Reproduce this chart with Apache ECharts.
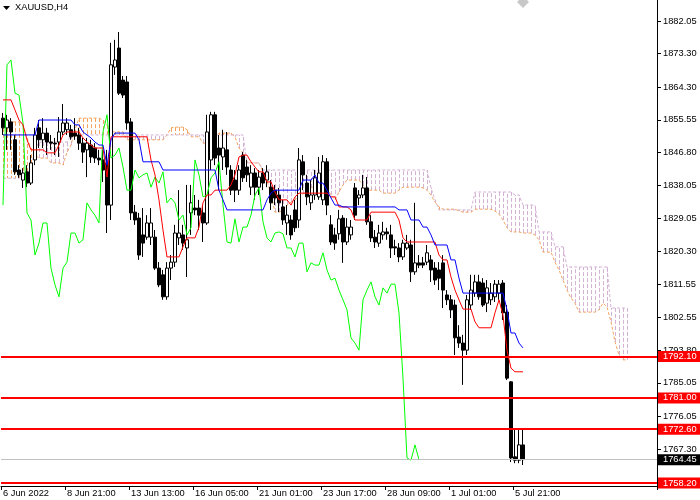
<!DOCTYPE html>
<html><head><meta charset="utf-8">
<script src="https://cdn.jsdelivr.net/npm/echarts@6.0.0/dist/echarts.min.js"></script>
<style>html,body{margin:0;padding:0;background:#fff}#c{width:700px;height:500px}</style>
</head><body><div id="c"></div><script>
// ---- data ----
const xTickLabels = ['6 Jun 2022','8 Jun 21:00','13 Jun 13:00','16 Jun 05:00','21 Jun 01:00','23 Jun 17:00','28 Jun 09:00','1 Jul 01:00','5 Jul 21:00'];
const yTickValues = [1882.05,1873.30,1864.30,1855.55,1846.80,1838.05,1829.05,1820.30,1811.55,1802.55,1793.80,1785.05,1776.05,1767.30];
const levels = [1792.10, 1781.00, 1772.60, 1758.20];
const bidPrice = 1764.45;
const yMin = 1757.38, yMax = 1887.68;
const barSlots = 164; // bars 0..130 + 26 forward + margin

const opens = [1856.0,1853.4,1855.0,1850.2,1842.1,1839.4,1841.6,1838.6,1844.8,1853.4,
 1850.2,1852.0,1849.6,1849.3,1849.6,1852.3,1852.9,1852.9,1852.0,1851.5,
 1849.3,1847.5,1848.8,1848.0,1845.3,1844.8,1844.0,1832.7,1869.7,1874.8,
 1866.2,1865.7,1855.0,1830.8,1829.2,1824.7,1824.1,1824.1,1824.1,1815.8,
 1814.0,1808.1,1815.8,1817.4,1823.9,1824.7,1821.2,1830.6,1831.9,1831.9,
 1830.6,1827.9,1844.8,1856.9,1848.0,1845.6,1847.5,1842.1,1839.4,1836.7,
 1846.1,1842.9,1837.5,1841.3,1837.5,1841.3,1839.4,1837.5,1836.7,1835.4,
 1832.2,1827.9,1828.7,1831.4,1828.7,1844.3,1838.6,1833.3,1835.4,1834.9,
 1834.1,1844.3,1827.4,1824.7,1825.0,1829.2,1822.8,1824.7,1837.3,1834.6,
 1835.4,1837.3,1828.2,1824.1,1822.5,1824.7,1825.5,1824.7,1821.5,1821.2,
 1818.8,1821.2,1822.0,1814.8,1817.2,1817.2,1817.4,1818.0,1815.8,1815.3,
 1817.2,1808.6,1807.3,1805.9,1797.3,1795.7,1793.8,1805.9,1809.1,1812.1,
 1811.8,1806.4,1807.3,1808.1,1809.1,1811.8,1804.0,1785.3,1765.2,1764.3,
 1768.4];
const closes = [1853.4,1855.5,1852.3,1841.6,1840.8,1841.3,1838.6,1844.0,1851.5,1850.2,
 1852.0,1849.6,1849.3,1849.1,1852.3,1854.7,1854.7,1851.0,1851.2,1849.3,
 1846.9,1849.3,1845.6,1845.3,1844.8,1842.1,1832.7,1870.3,1871.6,1862.7,
 1862.2,1854.7,1830.6,1828.7,1819.3,1822.5,1827.9,1827.9,1815.8,1811.3,
 1808.1,1815.8,1817.4,1825.2,1825.2,1822.5,1823.4,1833.3,1831.4,1830.0,
 1827.9,1852.3,1856.9,1845.3,1846.1,1848.0,1842.9,1836.7,1836.7,1842.1,
 1840.0,1840.8,1841.3,1837.5,1840.2,1838.6,1841.6,1833.3,1834.6,1833.3,
 1828.7,1830.0,1824.7,1826.6,1844.8,1840.8,1834.9,1835.4,1840.0,1841.3,
 1844.3,1832.7,1822.8,1822.5,1829.0,1822.8,1826.8,1826.8,1830.0,1835.4,
 1837.3,1828.2,1823.9,1822.8,1825.2,1825.5,1825.0,1821.2,1821.2,1818.8,
 1822.5,1822.5,1814.8,1817.2,1816.6,1816.6,1819.9,1815.3,1812.6,1813.1,
 1809.9,1807.3,1804.6,1797.1,1795.7,1793.8,1807.3,1809.9,1812.1,1808.1,
 1805.9,1810.5,1809.1,1811.5,1811.5,1803.8,1786.3,1764.9,1764.3,1768.4,
 1764.45];
const highs = [1857.4,1856.9,1856.0,1851.5,1843.4,1842.6,1843.4,1846.1,1853.4,1855.5,
 1856.0,1853.4,1851.5,1850.7,1856.3,1859.8,1856.0,1854.2,1856.0,1853.4,
 1850.7,1850.7,1850.2,1849.3,1847.5,1847.5,1847.5,1876.2,1877.0,1879.1,
 1867.3,1867.3,1856.0,1832.7,1830.6,1831.9,1830.0,1831.9,1826.0,1817.4,
 1815.3,1817.4,1819.3,1827.4,1836.7,1827.4,1838.1,1838.1,1835.4,1834.1,
 1832.7,1856.9,1857.7,1857.7,1851.5,1852.9,1852.3,1843.4,1842.1,1843.4,
 1846.9,1844.8,1843.4,1842.6,1842.1,1842.6,1843.4,1839.4,1838.1,1837.3,
 1834.1,1832.7,1830.0,1834.1,1848.0,1846.1,1840.8,1839.4,1842.1,1845.6,
 1846.1,1845.3,1830.0,1826.6,1831.4,1830.0,1829.2,1828.7,1838.6,1836.7,
 1840.8,1840.2,1830.0,1826.0,1827.4,1828.2,1826.6,1827.4,1823.4,1822.5,
 1823.4,1824.7,1823.4,1833.3,1819.3,1818.8,1822.0,1819.3,1817.4,1817.4,
 1819.3,1809.9,1808.6,1807.3,1800.5,1797.9,1808.6,1814.0,1814.0,1814.0,
 1813.1,1812.6,1811.8,1812.6,1812.6,1812.6,1805.9,1785.5,1772.4,1772.4,
 1772.4];
const lows = [1851.5,1847.5,1847.5,1840.8,1840.0,1837.3,1837.5,1838.1,1843.4,1848.0,
 1848.0,1846.1,1847.5,1846.1,1845.6,1851.5,1851.5,1850.2,1850.2,1847.5,
 1844.0,1840.2,1844.0,1844.0,1843.4,1838.9,1825.2,1828.7,1867.6,1862.2,
 1861.4,1852.9,1828.7,1827.4,1818.0,1818.8,1823.4,1822.0,1815.3,1810.7,
 1807.3,1807.3,1812.6,1816.1,1822.0,1820.7,1813.4,1824.7,1830.0,1826.0,
 1822.8,1827.4,1842.1,1843.4,1836.7,1842.1,1840.8,1835.4,1833.5,1835.4,
 1838.9,1838.9,1835.4,1834.1,1835.4,1836.7,1837.5,1831.4,1832.7,1830.8,
 1827.4,1824.7,1823.4,1825.5,1826.6,1836.7,1832.7,1831.4,1834.1,1834.1,
 1832.7,1830.0,1822.0,1820.7,1823.4,1817.2,1822.0,1823.4,1828.7,1832.7,
 1834.6,1827.4,1822.8,1821.2,1821.5,1823.4,1823.4,1818.5,1819.3,1817.4,
 1818.0,1820.7,1812.1,1814.0,1815.8,1815.8,1816.6,1812.1,1811.3,1809.9,
 1805.1,1805.9,1802.4,1792.5,1794.4,1784.5,1792.5,1804.6,1808.1,1807.3,
 1805.4,1804.0,1805.9,1806.7,1807.3,1801.9,1785.8,1763.8,1763.5,1763.5,
 1763.0];

const tenkan = [1860.9,1860.9,1860.9,1858.2,1855.5,1854.2,1850.2,1847.5,1847.5,1847.5,
 1847.5,1846.7,1846.7,1846.7,1848.8,1851.5,1852.3,1852.3,1852.3,1852.3,
 1850.7,1849.6,1848.8,1848.0,1848.0,1848.0,1840.2,1851.0,1851.0,1851.0,
 1851.0,1851.0,1851.0,1851.0,1851.0,1851.0,1851.0,1844.8,1840.8,1834.1,
 1826.0,1818.8,1818.8,1818.8,1818.8,1821.5,1823.9,1823.9,1823.9,1826.8,
 1833.3,1835.4,1835.4,1836.7,1836.7,1836.7,1836.7,1838.1,1840.8,1845.6,
 1846.1,1846.1,1844.3,1842.9,1841.6,1841.6,1838.9,1838.9,1836.2,1834.1,
 1834.1,1834.1,1832.7,1834.9,1835.9,1835.9,1835.9,1835.9,1835.9,1835.9,
 1835.9,1835.9,1834.9,1834.9,1832.2,1832.2,1832.2,1831.4,1828.7,1828.7,
 1828.7,1828.7,1830.8,1830.8,1830.8,1830.8,1830.8,1830.8,1830.8,1828.7,
 1823.9,1822.8,1822.8,1822.8,1822.8,1822.8,1822.8,1822.8,1822.8,1819.3,
 1818.0,1818.0,1813.4,1809.9,1807.3,1804.8,1804.8,1804.8,1801.4,1799.8,
 1799.8,1799.8,1799.8,1803.8,1807.3,1803.2,1793.8,1789.0,1788.0,1788.0,
 1788.0];
const kijun = [1851.5,1851.5,1851.5,1851.5,1851.5,1851.5,1851.5,1851.5,1851.5,1855.5,
 1855.5,1855.5,1855.5,1855.5,1855.5,1855.5,1855.5,1855.5,1854.2,1854.2,
 1852.3,1851.5,1850.7,1849.6,1848.8,1848.8,1843.4,1850.2,1852.0,1852.0,
 1852.0,1852.0,1852.0,1852.0,1850.2,1844.3,1844.3,1844.3,1844.3,1844.3,
 1842.1,1842.1,1842.1,1842.1,1842.1,1842.1,1842.1,1842.1,1842.1,1842.1,
 1842.1,1842.1,1842.1,1842.1,1836.7,1834.1,1831.4,1831.4,1831.4,1831.4,
 1831.4,1831.4,1831.4,1831.4,1831.4,1831.4,1834.1,1835.9,1836.7,1836.7,
 1836.7,1836.7,1836.7,1836.7,1836.7,1839.4,1839.4,1839.4,1840.8,1838.6,
 1838.6,1836.7,1834.6,1832.7,1832.7,1832.2,1832.2,1832.2,1832.2,1832.2,
 1832.2,1832.2,1832.2,1832.2,1832.2,1832.2,1832.2,1832.2,1832.2,1831.4,
 1831.4,1831.4,1828.7,1828.7,1828.7,1826.8,1826.8,1824.7,1822.0,1822.0,
 1822.0,1822.0,1818.0,1818.0,1813.1,1809.1,1809.1,1809.1,1809.1,1809.1,
 1809.1,1809.1,1809.1,1809.1,1809.1,1809.1,1804.6,1798.4,1798.4,1795.7,
 1794.4];
const senkouA = [1855.0,1855.0,1855.0,1855.0,1855.0,1854.2,1850.7,1848.0,1846.1,1845.3,
 1845.3,1845.3,1844.0,1844.0,1844.0,1843.4,1846.9,1848.8,1852.9,1856.0,
 1856.0,1856.0,1856.0,1856.0,1856.0,1855.5,1854.2,1852.3,1852.3,1852.3,
 1852.3,1850.2,1850.2,1850.2,1850.2,1850.2,1850.2,1850.2,1850.2,1850.2,
 1850.2,1851.5,1853.4,1853.6,1853.6,1853.6,1852.9,1851.0,1851.0,1851.0,
 1849.3,1849.3,1849.3,1851.0,1852.0,1852.0,1852.0,1852.0,1851.0,1848.0,
 1846.7,1844.3,1844.0,1844.0,1844.0,1841.6,1839.4,1835.4,1830.8,1830.8,
 1831.4,1832.7,1833.5,1834.1,1834.9,1835.7,1836.2,1837.3,1837.8,1838.4,
 1838.6,1837.3,1835.4,1834.1,1836.2,1838.1,1839.4,1839.4,1839.4,1839.4,
 1838.1,1836.7,1836.7,1836.7,1836.7,1835.9,1835.9,1835.9,1835.9,1836.7,
 1837.5,1837.5,1837.5,1837.5,1837.5,1837.3,1836.7,1835.4,1833.5,1832.2,
 1831.6,1831.6,1831.6,1831.6,1831.1,1830.8,1830.8,1830.8,1831.6,1831.6,
 1831.6,1831.6,1831.6,1831.1,1830.3,1828.7,1826.6,1825.5,1825.5,1825.5,
 1825.2,1825.2,1825.2,1824.7,1823.4,1820.1,1820.1,1820.1,1817.4,1815.3,
 1812.6,1809.9,1807.8,1806.4,1804.0,1804.0,1804.0,1804.0,1804.0,1804.6,
 1806.4,1805.4,1801.4,1796.0,1792.5,1791.2,1791.2];
const senkouB = [1839.9,1839.9,1839.9,1839.9,1839.9,1840.8,1841.6,1842.6,1847.5,1849.6,
 1849.6,1849.6,1849.6,1849.6,1849.6,1849.6,1849.6,1851.5,1851.5,1851.5,
 1851.5,1851.5,1851.5,1851.5,1851.5,1851.5,1851.5,1851.5,1851.5,1851.5,
 1851.5,1851.5,1851.5,1851.5,1851.5,1851.5,1851.5,1851.5,1851.5,1851.5,
 1851.5,1851.5,1851.5,1851.5,1851.5,1851.5,1851.5,1851.5,1851.5,1851.5,
 1851.5,1851.5,1851.5,1851.5,1851.5,1851.5,1851.5,1851.5,1851.5,1851.5,
 1851.5,1844.0,1844.0,1844.0,1844.0,1842.1,1842.1,1842.1,1842.1,1842.1,
 1842.1,1842.1,1842.1,1842.1,1842.1,1842.1,1842.1,1842.1,1842.1,1842.1,
 1842.1,1842.1,1842.1,1842.1,1842.1,1842.1,1842.1,1842.1,1842.1,1842.1,
 1842.1,1842.1,1842.1,1842.1,1842.1,1842.1,1842.1,1842.1,1842.1,1842.1,
 1842.1,1842.1,1842.1,1842.1,1842.1,1842.1,1842.1,1837.3,1834.1,1831.4,
 1831.4,1831.4,1831.4,1831.4,1831.4,1831.4,1831.4,1831.4,1836.2,1836.2,
 1836.2,1836.2,1836.2,1836.2,1836.2,1836.2,1836.2,1836.2,1835.4,1835.4,
 1832.7,1832.7,1832.7,1832.7,1825.5,1825.5,1825.5,1825.5,1821.5,1821.5,
 1821.5,1816.1,1816.1,1816.1,1816.1,1816.1,1816.1,1816.1,1816.1,1816.1,
 1816.1,1816.1,1805.1,1805.1,1805.1,1805.1,1805.1];

// ---- build library inputs ----
const categories = [];
for (let i = 0; i < barSlots; i++) categories.push(String(i));
const candleData = opens.map((o, i) => [o, closes[i], lows[i], highs[i]]);
const chikouData = categories.map((_, i) => (i + 26 < closes.length ? closes[i + 26] : '-'));
const cloudData = senkouA.map((a, i) => [i, a, senkouB[i]]);
const FONT = 'Liberation Sans';
const isLabelTick = idx => idx % 16 === 0 && idx / 16 < xTickLabels.length;

const levelLines = levels.map(v => ({ yAxis: v }));
levelLines.push({
  yAxis: bidPrice,
  lineStyle: { color: '#c0c0c0', width: 1, type: 'solid' },
  label: { backgroundColor: '#000000' }
});

const chart = echarts.init(document.getElementById('c'), null, { renderer: 'canvas' });
chart.setOption({
  animation: false,
  backgroundColor: '#ffffff',
  grid: { left: -1, right: 43, top: 0, bottom: 14, containLabel: false },
  graphic: [
    { type: 'polygon', shape: { points: [[3, 6], [10, 6], [6.5, 10]] }, style: { fill: '#000' } },
    { type: 'text', x: 15, y: 3, style: { text: 'XAUUSD,H4', font: '9.3px "Liberation Sans"', fill: '#000', textVerticalAlign: 'top' } },
    { type: 'polygon', shape: { points: [[523, -4], [529, 2], [523, 8], [517, 2]] }, style: { fill: '#c8c8c8' } }
  ],
  xAxis: {
    type: 'category',
    data: categories,
    boundaryGap: true,
    axisLine: { show: true, lineStyle: { color: '#000', width: 1 } },
    axisTick: { show: true, interval: isLabelTick, length: 4, lineStyle: { color: '#000' } },
    axisLabel: {
      show: true, interval: isLabelTick, align: 'left', margin: 3,
      color: '#000', fontSize: 9.3, fontFamily: FONT,
      formatter: (v, idx) => xTickLabels[idx / 16]
    },
    splitLine: { show: false }
  },
  yAxis: {
    type: 'value', position: 'right', min: yMin, max: yMax, scale: true,
    axisLine: { show: true, lineStyle: { color: '#000', width: 1 } },
    axisTick: { show: true, customValues: yTickValues, length: 4, lineStyle: { color: '#000' } },
    axisLabel: {
      show: true, customValues: yTickValues, margin: 6,
      color: '#000', fontSize: 9.3, fontFamily: FONT,
      formatter: v => Number(v).toFixed(2)
    },
    splitLine: { show: false }
  },
  series: [
    {
      name: 'cloud', type: 'custom', z: 1, silent: true,
      data: cloudData,
      encode: { x: 0, y: [1, 2] },
      renderItem: function (params, api) {
        const i = api.value(0);
        const a = api.value(1), b = api.value(2);
        const p1 = api.coord([i, a]);
        const p2 = api.coord([i, b]);
        const x = Math.round(p1[0]) + 0.5;
        return {
          type: 'line',
          shape: { x1: x, y1: p1[1], x2: x, y2: p2[1] },
          style: { stroke: a >= b ? '#F4A460' : '#D4B2D4', lineWidth: 1, lineDash: [4, 2] },
          silent: true
        };
      }
    },
    {
      name: 'Senkou Span A', type: 'line', z: 2, data: senkouA, symbol: 'none', silent: true,
      lineStyle: { color: '#F4A460', width: 1, type: [3, 2] }
    },
    {
      name: 'Senkou Span B', type: 'line', z: 2, data: senkouB, symbol: 'none', silent: true,
      lineStyle: { color: '#D4B2D4', width: 1, type: [3, 2] }
    },
    {
      name: 'XAUUSD', type: 'candlestick', z: 3, data: candleData, barWidth: 3, silent: true,
      itemStyle: { color: '#ffffff', color0: '#000000', borderColor: '#000000', borderColor0: '#000000', borderWidth: 1 }
    },
    {
      name: 'Chikou Span', type: 'line', z: 4, data: chikouData, symbol: 'none', silent: true,
      lineStyle: { color: '#00FF00', width: 1 }
    },
    {
      name: 'Tenkan-sen', type: 'line', z: 4, data: tenkan, symbol: 'none', silent: true,
      lineStyle: { color: '#FF0000', width: 1 }
    },
    {
      name: 'Kijun-sen', type: 'line', z: 5, data: kijun, symbol: 'none', silent: true,
      lineStyle: { color: '#0000FF', width: 1 },
      markLine: {
        silent: true, symbol: 'none', animation: false,
        lineStyle: { color: '#FF0000', width: 2, type: 'solid' },
        label: {
          show: true, position: 'end', distance: 1,
          formatter: p => Number(p.value).toFixed(2),
          color: '#ffffff', backgroundColor: '#FF0000',
          fontSize: 9.3, fontFamily: FONT, lineHeight: 10,
          padding: [1, 4, 0, 5]
        },
        data: levelLines
      }
    }
  ]
});
</script></body></html>
